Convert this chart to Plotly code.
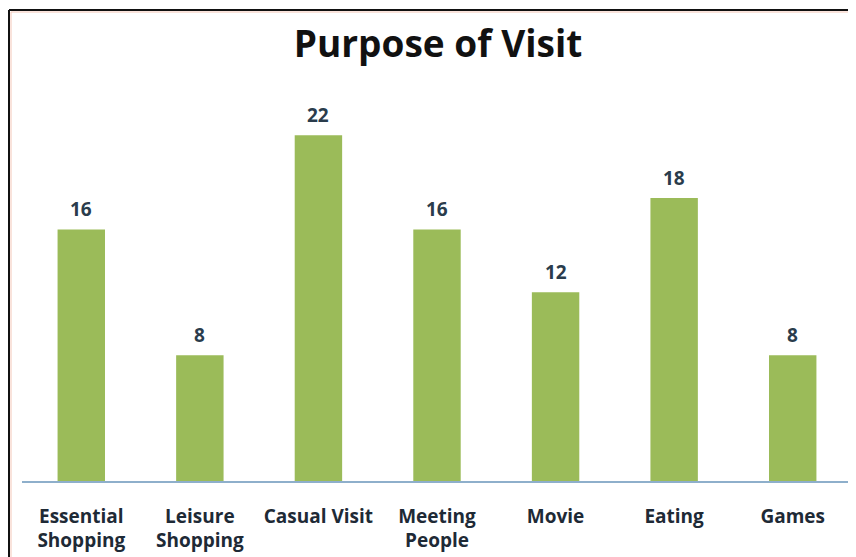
import plotly.graph_objects as go

categories = ["Essential Shopping", "Leisure Shopping", "Casual Visit", "Meeting People",
              "Movie", "Eating", "Games"]
tick_labels = ["Essential<br>Shopping", "Leisure<br>Shopping", "Casual Visit", "Meeting<br>People",
               "Movie", "Eating", "Games"]
values = [16, 8, 22, 16, 12, 18, 8]

# page has an 8px body margin, so the figure is sized/offset to compensate
OFF = 8
W, H = 856 - OFF, 557 - OFF
ml, mr, mt, mb = 22 - OFF, 4, 88 - OFF, 76
pw, ph = W - ml - mr, H - mt - mb

fig = go.Figure()
fig.add_trace(go.Bar(
    x=categories, y=values,
    marker=dict(color="#9BBB59", line=dict(width=0)),
    width=0.4,
    hoverinfo="skip",
))

for c, v in zip(categories, values):
    fig.add_annotation(x=c, y=v, text=f"<b>{v}</b>", showarrow=False,
                       yanchor="bottom", yshift=5,
                       font=dict(family="Open Sans", size=19, color="#2A3C4C"))

def px_x(p):
    return (p - OFF - ml) / pw

def px_y(p):
    return (H - mb - (p - OFF)) / ph

# chart frame (top and left edges)
fig.add_shape(type="line", xref="paper", yref="paper",
              x0=px_x(9), x1=px_x(870), y0=px_y(10), y1=px_y(10),
              line=dict(color="#111111", width=2))
fig.add_shape(type="line", xref="paper", yref="paper",
              x0=px_x(9), x1=px_x(9), y0=px_y(10), y1=px_y(570),
              line=dict(color="#111111", width=2))
fig.add_shape(type="line", xref="paper", yref="paper",
              x0=px_x(11), x1=px_x(870), y0=px_y(12), y1=px_y(12),
              line=dict(color="#F4C7B8", width=1))
fig.add_shape(type="line", xref="paper", yref="paper",
              x0=px_x(11), x1=px_x(11), y0=px_y(12), y1=px_y(570),
              line=dict(color="#F4C7B8", width=1))

fig.update_layout(
    width=W, height=H,
    margin=dict(l=ml, r=mr, t=mt, b=mb, autoexpand=False),
    paper_bgcolor="white", plot_bgcolor="white",
    title=dict(text="<b>Purpose of Visit</b>", x=(438 - OFF) / W, xanchor="center",
               y=1 - (44 - OFF) / H, yanchor="middle",
               font=dict(family="Open Sans", size=37, color="#111111")),
    xaxis=dict(tickmode="array", tickvals=categories,
               ticktext=[f"<b>{t}</b>" for t in tick_labels],
               showline=True, linecolor="#8EAFCB", linewidth=1.5,
               ticks="", showgrid=False, ticklabelstandoff=17,
               tickfont=dict(family="Open Sans", size=19, color="#1E2A36")),
    yaxis=dict(range=[0, 25], visible=False, showgrid=False, zeroline=False),
    showlegend=False,
    bargap=0.6,
)

fig.write_html("out.html")
